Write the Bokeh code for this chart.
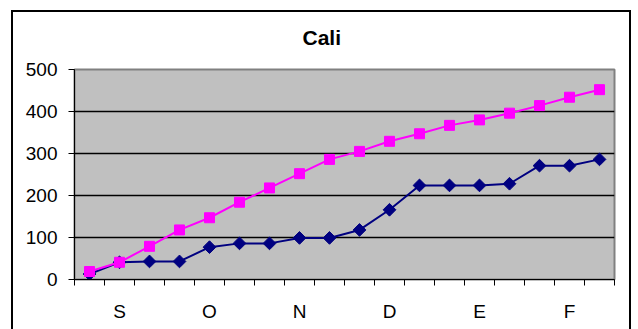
import math
from bokeh.plotting import figure
from bokeh.models import Range1d, FixedTicker, Title
from bokeh.embed import file_html
from bokeh.resources import INLINE

months = ["S", "O", "N", "D", "E", "F"]
pink = [19, 41, 79, 118, 147, 184, 218, 252, 286, 305, 329, 347, 367, 380, 396, 414, 434, 452]
navy = [13, 41, 43, 43, 77, 86, 86, 99, 99, 118, 166, 224, 224, 224, 228, 271, 271, 286]

n = len(pink)
per = n // len(months)
xs = [i + 0.5 for i in range(n)]

FONT = "Liberation Sans"

p = figure(width=638, height=329, output_backend="svg", toolbar_location=None,
           x_range=Range1d(0, n), y_range=Range1d(0, 500),
           min_border_left=74, min_border_right=24, min_border_top=69, min_border_bottom=50)
p.background_fill_color = "#C0C0C0"
p.border_fill_color = "white"
p.border_fill_alpha = 0
p.outline_line_color = "#808080"
p.outline_line_width = 2

# outer chart border drawn as the host element's CSS background
p.styles = {
    "background": ("linear-gradient(#000,#000) 11px 10px / 620px 2px no-repeat, "
                   "linear-gradient(#000,#000) 11px 10px / 2px 400px no-repeat, "
                   "linear-gradient(#000,#000) 629px 10px / 2px 400px no-repeat, #fff"),
}

t = Title(text="Cali", align="left", offset=228, text_font=FONT, text_font_size="21px",
          text_font_style="bold", text_color="black", standoff=42)
p.add_layout(t, "above")

# y axis
p.yaxis.ticker = FixedTicker(ticks=[0, 100, 200, 300, 400, 500])
p.yaxis.major_label_text_font = FONT
p.yaxis.major_label_text_font_size = "19px"
p.yaxis.major_label_text_color = "black"
p.yaxis.major_tick_in = 0
p.yaxis.major_tick_out = 6
p.yaxis.major_label_standoff = 11
p.yaxis.minor_tick_line_color = None
p.yaxis.axis_line_color = "black"
p.yaxis.major_tick_line_color = "black"

# x axis
label_pos = [per * k + per / 2 for k in range(len(months))]
p.xaxis.ticker = FixedTicker(ticks=label_pos, minor_ticks=list(range(n + 1)))
p.xaxis.major_label_overrides = {pos: m for pos, m in zip(label_pos, months)}
p.xaxis.major_label_text_font = FONT
p.xaxis.major_label_text_font_size = "19px"
p.xaxis.major_label_text_color = "black"
p.xaxis.major_tick_in = 0
p.xaxis.major_tick_out = 0
p.xaxis.minor_tick_in = 0
p.xaxis.minor_tick_out = 6
p.xaxis.minor_tick_line_color = "black"
p.xaxis.major_label_standoff = 15
p.xaxis.axis_line_color = "black"

p.xgrid.grid_line_color = None
p.ygrid.grid_line_color = "black"
p.ygrid.grid_line_width = 1.5

p.line(xs, navy, line_color="#000080", line_width=2)
p.scatter(xs, navy, marker="square", angle=math.pi / 4, size=9,
          fill_color="#000080", line_color="#000080")
p.line(xs, pink, line_color="#FF00FF", line_width=2)
p.scatter(xs, pink, marker="square", size=10, fill_color="#FF00FF", line_color="#FF00FF")

open("out.html", "w").write(file_html(p, INLINE))
